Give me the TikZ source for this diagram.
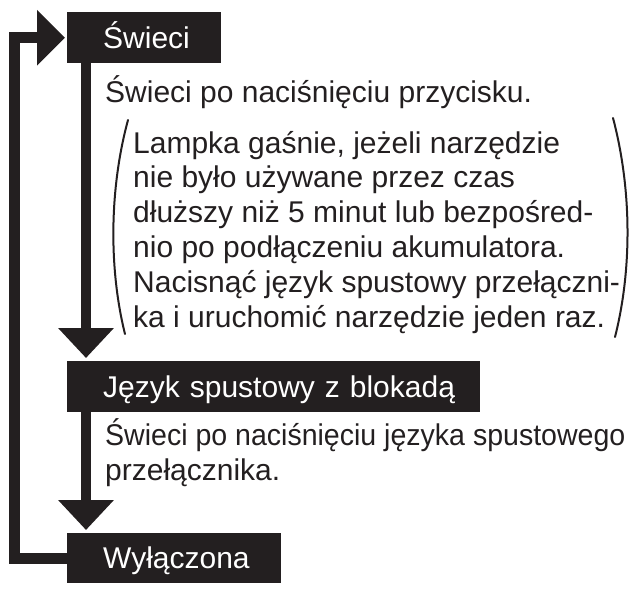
\documentclass[tikz,border=0pt]{standalone}
\usepackage{fontspec}
\setmainfont{Liberation Sans}
\usetikzlibrary{arrows.meta}

\definecolor{ink}{HTML}{231F20}

\begin{document}
\begin{tikzpicture}[x=1pt, y=-1pt]

        \pgfmathsetmacro{\boxleft}{67}

        % Black state boxes and the plain texts under them
        % (the base of a note is the baseline of its last line)
        \tikzset{
            statebox/.style={fill=ink, text=white, anchor=north west,
                inner xsep=0pt, inner ysep=0pt, align=left,
                minimum height=51pt, text height=21.5pt, text depth=0pt,
                execute at begin node={\hspace*{36pt}},
                font=\fontsize{30}{34.8}\selectfont},
            note/.style={text=ink, anchor=base west, inner sep=0pt,
                align=left, font=\fontsize{30}{34.8}\selectfont},
            flow/.style={draw=ink, line width=10pt,
                -{Triangle[width=54pt, length=30pt]}, shorten >=3pt},
            back/.style={draw=ink, line width=11pt, line join=miter,
                -{Triangle[width=54pt, length=28pt]}, shorten >=2pt}
        }

        \useasboundingbox (0, 0) rectangle (634, 590);

        % Boxes, from the top down
        \node[statebox, text width=154pt] (swieci) at (\boxleft, 12) {Świeci};
        \node[statebox, text width=413pt] (jezyk) at (\boxleft, 361)
            {Język spustowy z blokadą};
        \node[statebox, text width=214pt, minimum height=50pt] (wylaczona)
            at (\boxleft, 533) {Wyłączona};

        % Texts below each box
        \node[note] (opis1) at (105, 102) {Świeci po naciśnięciu przycisku.};
        \node[note] (uwaga) at (133, 327) {Lampka gaśnie, jeżeli narzędzie\\
            nie było używane przez czas\\
            dłuższy niż 5 minut lub bezpośred-\\
            nio po podłączeniu akumulatora.\\
            Nacisnąć język spustowy przełączni-\\
            ka i uruchomić narzędzie jeden raz.};
        % the long first line is set a little narrower, as printed
        \node[note] (opis2) at (105, 480)
            {\scalebox{0.951}[1]{Świeci po naciśnięciu języka spustowego}\\
            przełącznika.};

        % Brackets round the note
        \begin{scope}[draw=ink, line width=2pt, line cap=round]
            \draw (128, 120) .. controls (109, 190) and (109, 270) .. (125, 334);
            \draw (613, 118) .. controls (632, 190) and (632, 270) .. (615, 337);
        \end{scope}

        % Arrows down the chain, and the one going back up
        \draw[flow] ([xshift=19pt]swieci.south west)
            -- ([xshift=19pt]jezyk.north west);
        \draw[flow] ([xshift=19pt]jezyk.south west)
            -- ([xshift=19pt]wylaczona.north west);
        \draw[back] (wylaczona.west) -- ++(-53pt, 0) |- (swieci.west);

\end{tikzpicture}
\end{document}
